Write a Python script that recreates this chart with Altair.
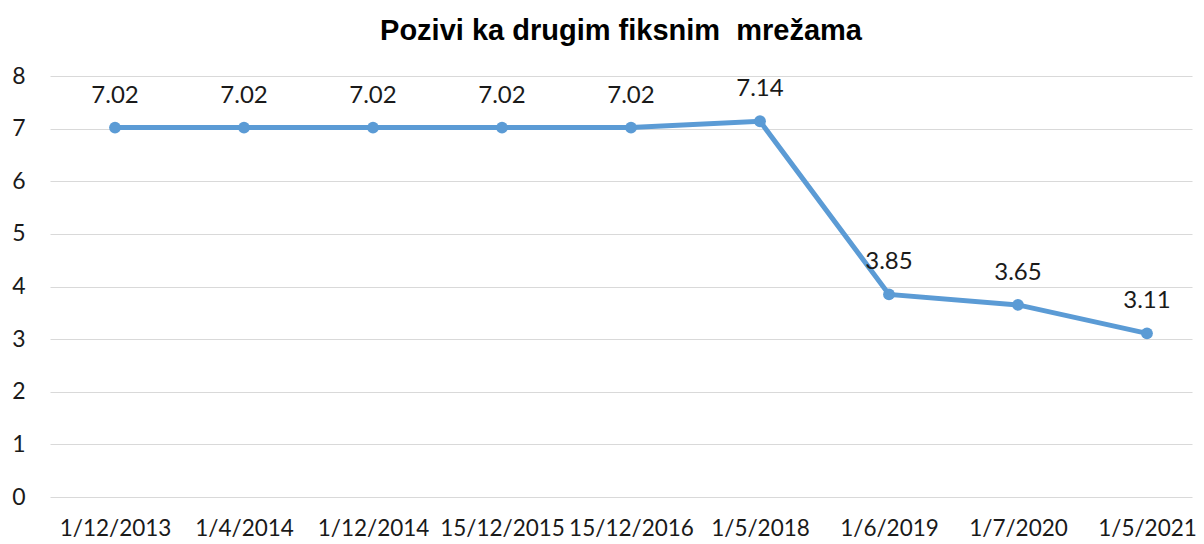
import altair as alt
import pandas as pd

dates = ["1/12/2013", "1/4/2014", "1/12/2014", "15/12/2015", "15/12/2016",
         "1/5/2018", "1/6/2019", "1/7/2020", "1/5/2021"]
values = [7.02, 7.02, 7.02, 7.02, 7.02, 7.14, 3.85, 3.65, 3.11]
labels = ["7.02", "7.02", "7.02", "7.02", "7.02", "7.14", "3.85", "3.65", "3.11"]

df = pd.DataFrame({"i": list(range(len(dates))), "date": dates,
                   "value": values, "label": labels})

color = "#5B9BD5"
font = "Lato"
label_expr = "[" + ",".join("'" + d + "'" for d in dates) + "][datum.value]"

x = alt.X("i:Q",
          scale=alt.Scale(domain=[-0.504, 8.349], nice=False, zero=False),
          axis=alt.Axis(values=list(range(len(dates))), labelExpr=label_expr,
                        title=None, domain=False, ticks=False, grid=False,
                        labelOverlap=False, labelBound=False, labelFlush=False,
                        labelFont=font, labelFontSize=22.5, labelColor="#1a1a1a",
                        labelPadding=31, labelBaseline="middle"))
y = alt.Y("value:Q",
          scale=alt.Scale(domain=[0, 8], nice=False),
          axis=alt.Axis(values=list(range(0, 9)), title=None, domain=False,
                        ticks=False, grid=True, gridColor="#D9D9D9",
                        gridWidth=1.2, labelFont=font, labelFontSize=23,
                        labelColor="#1a1a1a", labelPadding=25))

base = alt.Chart(df)
line = base.mark_line(color=color, strokeWidth=5).encode(x=x, y=y)
pts = base.mark_circle(color=color, size=140, opacity=1).encode(x=x, y=y)
txt = base.mark_text(dy=-32, font=font, fontSize=24, color="#1a1a1a",
                     baseline="middle", align="center").encode(
    x=x, y=y, text="label:N")

chart = alt.layer(line, pts, txt).properties(
    width=1142, height=421,
    padding={"left": 42, "top": 68, "right": 4, "bottom": 46},
    autosize=alt.AutoSizeParams(type="none"),
    title=alt.TitleParams("Pozivi ka drugim fiksnim\u00a0 mrežama",
                          font="Liberation Sans", fontSize=29,
                          fontWeight="bold", color="black",
                          anchor="middle", offset=19),
).configure(background="white").configure_view(
    stroke=None, strokeWidth=0
).configure_axis(domain=False, ticks=False)

chart.save("out.html", embed_options={"renderer": "svg", "actions": False})
